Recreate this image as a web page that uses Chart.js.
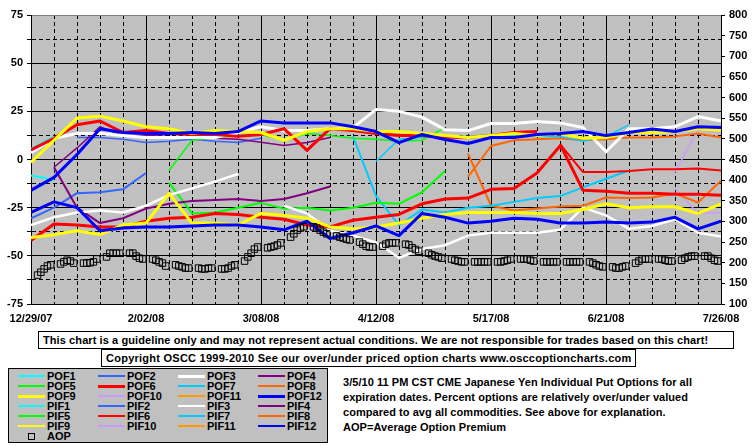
<!DOCTYPE html>
<html>
<head>
<meta charset="utf-8">
<script src="https://cdn.jsdelivr.net/npm/chart.js@4.4.0/dist/chart.umd.min.js"></script>
<style>
  body { margin: 0; width: 755px; height: 446px; position: relative; overflow: hidden; background: #fff; font-family: Arial, "Liberation Sans", sans-serif; }
  #wrap { position: absolute; left: 0; top: 0; width: 755px; height: 330px; }
  .box { position: absolute; background: #fff; border: 1px solid #000; box-sizing: border-box; font-weight: bold; font-size: 11px; line-height: 16px; white-space: nowrap; padding-left: 4px; }
  #disc { left: 38px; top: 331px; width: 696px; height: 18px; letter-spacing: 0.09px; }
  #copy { left: 101px; top: 349px; width: 535px; height: 18px; letter-spacing: 0.25px; }
  #legend { position: absolute; left: 8px; top: 368px; width: 320px; height: 75px; background: #c0c0c0; border: 1px solid #000; box-sizing: border-box; }
  .lg { position: absolute; font-weight: bold; font-size: 11px; line-height: 10px; white-space: nowrap; }
  .sw { position: absolute; width: 27px; }
  #note { position: absolute; left: 343px; top: 375px; font-weight: bold; font-size: 11px; line-height: 15px; white-space: nowrap; letter-spacing: 0.05px; }
</style>
</head>
<body>
<div id="wrap"><canvas id="chart" width="755" height="330"></canvas></div>
<div class="box" id="disc">This chart is a guideline only and may not represent actual conditions. We are not responsible for trades based on this chart!</div>
<div class="box" id="copy">Copyright OSCC 1999-2010 See our over/under priced option charts www.osccoptioncharts.com</div>
<div id="legend"></div>
<div id="note">3/5/10 11 PM CST CME Japanese Yen Individual Put Options for all<br>expiration dates. Percent options are relatively over/under valued<br>compared to avg all commodities. See above for explanation.<br>AOP=Average Option Premium</div>
<script>
const dateLabels = ['12/29/07', '2/02/08', '3/08/08', '4/12/08', '5/17/08', '6/21/08', '7/26/08'];
// days since 12/29/07, one point a week
const weeks = [0, 7, 14, 21, 28, 35, 42, 49, 56, 63, 70, 77, 84, 91, 98, 105, 112, 119, 126, 133, 140, 147, 154, 161, 168, 175, 182, 189, 196, 203, 210];
const N = null;

// percent over/under valued (left axis)
const pof1 = [5.5, 12, N, N, N, N, N, N, N, N, N, N, N, N, N, N, N, N, N, N, N, N, N, N, N, N, N, N, N, N, N];
const pif1 = [-8.3, -10.5, N, N, N, N, N, N, N, N, N, N, N, N, N, N, N, N, N, N, N, N, N, N, N, N, N, N, N, N, N];
const pof2 = [N, N, 11.4, 11.4, 10.5, 8.8, 9.5, 10.5, 9.5, 8.8, 11, N, N, N, N, N, N, N, N, N, N, N, N, N, N, N, N, N, N, N, N];
const pif2 = [-30.5, -25, -17.5, -17, -15.5, -7, N, N, N, N, N, N, N, N, N, N, N, N, N, N, N, N, N, N, N, N, N, N, N, N, N];
const pof3 = [3.5, 11, 13.5, 13.5, 12.5, 11.4, 11.4, 11.4, 11.4, 14, 17, 15, 15, 16, 16.5, 26, 25, 22, 15.5, 15, 18.7, 18.7, 19.7, 19, 16.6, 4, 16, 16, 17, 22.3, 20];
const pif3 = [-34, -30, -27.5, -26.5, -27.5, -24, -18.5, -15, -11.5, -7.5, N, N, N, N, N, N, N, N, N, N, N, N, N, N, N, N, N, N, N, N, N];
const pif3b = [N, N, N, N, N, N, N, N, N, N, N, -24, -28, -37, -39.5, -43, -51, -46.5, -44.5, -39.5, -38, -38, -38, -36.5, -25, -29, -36, -34.5, -31, -38, -40];
const pof4 = [N, -4, 6, 17, 12.4, 12.4, 12, 11, 11, 10.5, 9, 7.3, 8.8, 11.4, N, N, N, N, N, N, N, N, N, N, N, N, N, N, N, N, N];
const pif4 = [N, -4, -25, -33, -30.5, -25.5, -23, -21.5, -21, -20.5, -21.5, -20.5, -17.5, -14, N, N, N, N, N, N, N, N, N, N, N, N, N, N, N, N, N];
const pof5 = [N, N, N, N, N, N, -5.7, 10, 11.4, 12.4, 13, 10, 13.5, 12.4, 11, 10.5, 9.5, 10, 16.5, N, N, N, N, N, N, N, N, N, N, N, N];
const pif5 = [N, N, N, N, N, N, -12, -28, -27.5, -25, -22.5, -25.5, -25, -26.5, -25, -22.5, -23, -17, -6, N, N, N, N, N, N, N, N, N, N, N, N];
const pof6 = [5, 11, 18, 20, 14, 15, 13.5, 13, 13, 12, 13, 16, 4.7, 16, 15, 13.5, 12.5, 12.4, 11.5, 11.4, 12.5, 14, 14.5, N, N, N, N, N, N, N, N];
const pif6 = [-42, -33.5, -34, -35, -35, -32, -30.5, -30, -28, -28.5, -30, -31, -34, -35, -31.5, -30, -28.5, -23, -20.5, -20, -15.5, -15, -7, 7, N, N, N, N, N, N, N];
const pif6b = [N, N, N, N, N, N, N, N, N, N, N, N, N, N, N, N, N, N, N, N, N, N, N, 8, -16, -16.5, -17.5, -17.5, -18, -18, -18.5];
const pif6c = [N, N, N, N, N, N, N, N, N, N, N, N, N, N, N, N, N, N, N, N, N, N, N, 8, -6.5, -6.5, -6, -5, -5, -4.7, -5.7];
const pof7 = [N, N, N, N, N, N, N, N, N, N, N, N, N, N, N, -1, 10.5, 11.4, 12, 12, 13, 12.5, 12, 12, 9.5, 12, 18, N, N, N, N];
const pif7 = [N, N, N, N, N, N, N, N, N, N, N, N, N, N, 12, -19, -34, -26, -27.5, -25, -24, -22, -20, -19, -14.5, -10, -5.7, N, N, N, N];
const pof8 = [N, N, N, N, N, N, N, N, N, N, N, N, N, N, N, N, N, N, N, -9, 7, 10, 10.5, 11, 10, 10.5, 11.4, 11.4, 12, 13.5, 11.4];
const pif8 = [N, N, N, N, N, N, N, N, N, N, N, N, N, N, N, N, N, N, N, 3, -24, -26.5, -25.4, -24.4, -24, -19.7, -20, -19.7, -17.6, -22.3, -11];
const pof9 = [-1.5, 10, 21.5, 22.5, 20, 17, 16, 13.5, 15, 14.5, 14, 10, 14.5, 16, 16, 14.5, 14.5, 13.5, 12.5, 11.4, 12.4, 13.5, 12.4, 13.5, 11, 11.4, 14, 14, 14.5, 16, 15];
const pif9 = [-40.5, -39, -37, -39, -34, -33, -17.6, -33, -33, -34, -28, -29, -30.5, -35, -36, -35, -33, -30.5, -28.5, -27.5, -27.5, -27.5, -28, -28, -26, -23, -25, -24.5, -24.5, -28, -23];
const pof10 = [N, N, N, N, N, N, N, N, N, N, N, N, N, N, N, N, N, N, N, N, N, N, N, N, N, N, N, N, -6.5, 15.5, 14];
const pif10 = [N, N, N, N, N, N, N, N, N, N, N, N, N, N, N, N, N, N, N, N, N, N, N, N, N, N, N, N, -15, -28, -27.5];
const pof12 = [-16, -9.3, 2.6, 16, 14, 13.5, 13.5, 14, 13.5, 14.5, 20, 19, 19, 19, 17, 14.5, 8.8, 13, 10.4, 8.3, 11.4, 11.4, 13, 13.5, 14.5, 12.4, 14, 15.8, 14.5, 17, 16.6];
const pif12 = [-27.5, -22, -25, -37, -35.5, -35, -35, -34.5, -34, -34, -35, -36.5, -32, -41, -38, -34.5, -39.5, -28, -30, -33, -32, -30.5, -31, -33, -33, -32.5, -33, -32.5, -30, -36, -32];

// average option premium (right axis), one value per trading day, a row per week
const aopValues = [
  170, 177, 185, 192, 195,
  197, 202, 206, 204, 199,
  199, 199, 200, 202, 209,
  214, 223, 223, 223, 223,
  223, 223, 216, 211, 209,
  209, 206, 202, 199, 192,
  195, 192, 190, 187, 187,
  187, 185, 185, 187, 187,
  185, 185, 187, 192, 195,
  204, 214, 223, 233, 238,
  236, 238, 240, 243, 248,
  262, 270, 279, 284, 287,
  287, 284, 279, 274, 270,
  265, 262, 260, 257, 255,
  250, 245, 240, 238, 238,
  240, 245, 248, 248, 248,
  245, 243, 236, 232, 228,
  223, 219, 216, 214, 211,
  209, 206, 204, 202, 202,
  202, 202, 202, 202, 202,
  202, 202, 204, 206, 209,
  209, 209, 209, 206, 204,
  202, 202, 202, 202, 202,
  202, 202, 202, 202, 202,
  202, 199, 195, 192, 190,
  190, 187, 187, 190, 192,
  199, 204, 209, 209, 209,
  209, 209, 206, 204, 204,
  206, 211, 214, 216, 216,
  216, 216, 211, 206, 204
];
// trading days (Mon-Fri) from 12/31/07
const aopDays = [];
for (let w = 0; w < aopValues.length / 5; w++) {
  for (let d = 0; d < 5; d++) aopDays.push(2 + w * 7 + d);
}

const legendNames = ['POF1', 'POF2', 'POF3', 'POF4', 'POF5', 'POF6', 'POF7', 'POF8', 'POF9', 'POF10', 'POF11', 'POF12',
  'PIF1', 'PIF2', 'PIF3', 'PIF4', 'PIF5', 'PIF6', 'PIF7', 'PIF8', 'PIF9', 'PIF10', 'PIF11', 'PIF12'];
const groupColors = ['#00ffff', '#3366ff', '#ffffff', '#800080', '#00ff00', '#ff0000', '#00ccff', '#ff6600', '#ffff00', '#cc99ff', '#ff9900', '#0000ff'];
const legendWidths = [2, 2, 3, 2, 2, 3, 2, 2, 3, 2, 2, 3, 2, 1.5, 2, 1.5, 1.5, 2.5, 1.5, 1.5, 2.5, 1.5, 1.5, 2.5];

// which array goes with which colour, drawn back to front
const lines = [
  { label: 'PIF10', data: pif10, color: groupColors[9], width: 1.5 },
  { label: 'POF10', data: pof10, color: groupColors[9], width: 1.5 },
  { label: 'PIF8', data: pif8, color: groupColors[7], width: 2 },
  { label: 'POF8', data: pof8, color: groupColors[7], width: 2 },
  { label: 'PIF7', data: pif7, color: groupColors[6], width: 2 },
  { label: 'POF7', data: pof7, color: groupColors[6], width: 1.5 },
  { label: 'PIF1', data: pif1, color: groupColors[0], width: 2 },
  { label: 'POF1', data: pof1, color: groupColors[0], width: 2 },
  { label: 'PIF2', data: pif2, color: groupColors[1], width: 2 },
  { label: 'POF2', data: pof2, color: groupColors[1], width: 1.5 },
  { label: 'PIF5', data: pif5, color: groupColors[4], width: 2 },
  { label: 'POF5', data: pof5, color: groupColors[4], width: 1.5 },
  { label: 'PIF4', data: pif4, color: groupColors[3], width: 2 },
  { label: 'POF4', data: pof4, color: groupColors[3], width: 1.5 },
  { label: 'PIF3', data: pif3, color: groupColors[2], width: 2.5 },
  { label: 'PIF3', data: pif3b, color: groupColors[2], width: 2.5 },
  { label: 'POF3', data: pof3, color: groupColors[2], width: 3 },
  { label: 'PIF6', data: pif6c, color: groupColors[5], width: 2 },
  { label: 'PIF6', data: pif6b, color: groupColors[5], width: 3 },
  { label: 'PIF6', data: pif6, color: groupColors[5], width: 3 },
  { label: 'POF6', data: pof6, color: groupColors[5], width: 3 },
  { label: 'PIF9', data: pif9, color: groupColors[8], width: 3 },
  { label: 'POF9', data: pof9, color: groupColors[8], width: 3 },
  { label: 'PIF12', data: pif12, color: groupColors[11], width: 3 },
  { label: 'POF12', data: pof12, color: groupColors[11], width: 3 }
];

const datasets = [{
  label: 'AOP',
  data: aopDays.map((d, i) => ({ x: d, y: aopValues[i] })),
  yAxisID: 'y2',
  showLine: false,
  pointStyle: 'rect',
  pointRadius: 4.6,
  borderColor: '#000',
  borderWidth: 1,
  backgroundColor: 'rgba(0,0,0,0)'
}];
// chart.js draws dataset 0 on top, so reverse
lines.slice().reverse().forEach(l => {
  datasets.push({
    label: l.label,
    data: weeks.map((d, i) => ({ x: d, y: l.data[i] })),
    yAxisID: 'y',
    borderColor: l.color,
    borderWidth: l.width,
    pointRadius: 0,
    borderJoinStyle: 'round',
    spanGaps: false,
    fill: false
  });
});

const fonte = { family: 'Arial', size: 11, weight: 'bold' };

const fundoCinza = {
  id: 'fundoCinza',
  beforeDraw(chart) {
    const { ctx, chartArea: a } = chart;
    ctx.save();
    ctx.fillStyle = '#c0c0c0';
    ctx.fillRect(a.left, a.top, a.right - a.left, a.bottom - a.top);
    ctx.restore();
  }
};

new Chart(document.getElementById('chart'), {
  type: 'line',
  data: { datasets },
  options: {
    responsive: false,
    animation: false,
    layout: { padding: { top: 15, left: 0, right: 0, bottom: 0 } },
    plugins: { legend: { display: false }, tooltip: { enabled: false } },
    elements: { line: { tension: 0 } },
    scales: {
      x: {
        type: 'linear', position: 'bottom', min: 0, max: 210,
        afterFit: s => { s.height = 26; },
        ticks: {
          stepSize: 7, autoSkip: false, maxRotation: 0, padding: 8, color: '#000', font: fonte,
          callback: v => v % 35 === 0 ? dateLabels[v / 35] : ''
        },
        grid: { color: '#000', lineWidth: 1, drawTicks: false },
        border: { color: '#000', width: 1, dash: c => (c.type === 'tick' && c.tick.value % 35 !== 0) ? [4, 3] : [] }
      },
      y: {
        type: 'linear', position: 'left', min: -75, max: 75,
        afterFit: s => { s.width = 31; },
        ticks: {
          stepSize: 12.5, padding: 4, color: '#000', font: fonte,
          callback: v => v % 25 === 0 ? v : ''
        },
        grid: { color: c => (c.tick && c.tick.value === 75) ? '#808080' : '#000', lineWidth: 1, tickLength: 4, tickColor: '#000' },
        border: { color: '#000', width: 1, dash: c => (c.type === 'tick' && c.tick.value % 25 !== 0) ? [4, 3] : [] }
      },
      y2: {
        type: 'linear', position: 'right', min: 100, max: 800,
        afterFit: s => { s.width = 34; },
        ticks: { stepSize: 50, padding: 4, color: '#000', font: fonte },
        grid: { drawOnChartArea: false, tickLength: 4, tickColor: '#000' },
        border: { color: '#000', width: 1 }
      }
    }
  },
  plugins: [fundoCinza]
});

// legend box
const legend = document.getElementById('legend');
function addItem(col, row, name, color, width, square) {
  const x = [9, 89, 169, 249][col];
  const y = 7 + row * 10;
  if (square) {
    const sq = document.createElement('div');
    sq.className = 'sw';
    sq.style.cssText = `left:${x + 10}px;top:${y - 3}px;width:5px;height:5px;border:1px solid #000;`;
    legend.appendChild(sq);
  } else {
    const sw = document.createElement('div');
    sw.className = 'sw';
    sw.style.cssText = `left:${x}px;top:${y - width / 2}px;height:${width}px;background:${color};`;
    legend.appendChild(sw);
  }
  const t = document.createElement('div');
  t.className = 'lg';
  t.textContent = name;
  t.style.left = (x + 29) + 'px';
  t.style.top = (y - 5) + 'px';
  legend.appendChild(t);
}
legendNames.forEach((n, i) => {
  addItem(i % 4, Math.floor(i / 4), n, groupColors[i % 12], legendWidths[i], false);
});
addItem(0, 6, 'AOP', '#000', 1, true);
</script>
</body>
</html>
